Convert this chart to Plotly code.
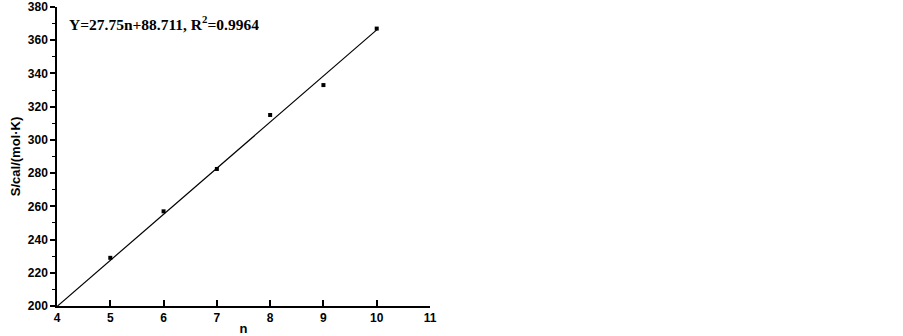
import plotly.graph_objects as go

n_values = [5, 6, 7, 8, 9, 10]
s_values = [229, 257, 282.5, 315, 333, 367]
fit_n = [4, 10]
slope = 27.75
intercept = 88.711
x_ticks = [4, 5, 6, 7, 8, 9, 10, 11]
y_ticks = [200, 220, 240, 260, 280, 300, 320, 340, 360, 380]

fit_s = [slope * v + intercept for v in fit_n]

fig = go.Figure()
fig.add_trace(go.Scatter(x=fit_n, y=fit_s, mode="lines",
                         line=dict(color="black", width=1.2), showlegend=False))
fig.add_trace(go.Scatter(x=n_values, y=s_values, mode="markers",
                         marker=dict(symbol="square", size=4, color="black"),
                         showlegend=False))

fig.add_annotation(x=0.027, y=0.945, xref="paper", yref="paper", xanchor="left", yanchor="middle",
                   text="Y=27.75n+88.711, R<sup>2</sup>=0.9964", showarrow=False,
                   font=dict(family="Liberation Serif", size=15.5, color="black", weight="bold"))

fig.update_layout(
    width=903, height=336,
    margin=dict(l=57, r=473, t=7, b=30),
    paper_bgcolor="white", plot_bgcolor="white",
    font=dict(family="Liberation Sans", color="black"),
)
fig.update_xaxes(range=[4, 11], tickvals=x_ticks, ticks="inside", ticklen=6, tickwidth=1.5,
                 tickcolor="black", showline=True, linecolor="black", linewidth=1.5,
                 showgrid=False, zeroline=False, automargin=False,
                 tickfont=dict(size=12, family="Liberation Sans", weight="bold"),
                 title=dict(text="n", standoff=0,
                            font=dict(size=13, family="Liberation Sans", weight="bold")))
fig.update_yaxes(range=[200, 380], tickvals=y_ticks, ticks="outside", ticklen=5, tickwidth=1.5,
                 tickcolor="black", showline=True, linecolor="black", linewidth=1.5,
                 showgrid=False, zeroline=False, automargin=False,
                 minor=dict(dtick=10, ticks="outside", ticklen=3, tickcolor="black", tickwidth=1),
                 tickfont=dict(size=12, family="Liberation Sans", weight="bold"),
                 title=dict(text="S/cal/(mol·K)", standoff=4,
                            font=dict(size=13, family="Liberation Sans", weight="bold")))

fig.write_html("out.html", config={"displayModeBar": False},
               post_script="document.body.style.margin='0';")
